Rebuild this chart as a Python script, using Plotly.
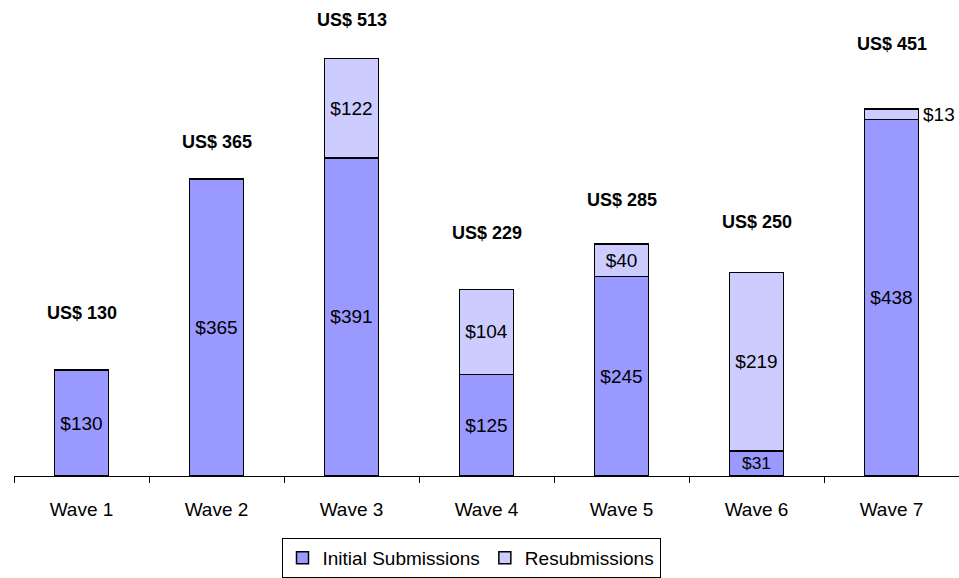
import plotly.graph_objects as go

waves = ["Wave 1", "Wave 2", "Wave 3", "Wave 4", "Wave 5", "Wave 6", "Wave 7"]
initial = [130, 365, 391, 125, 245, 31, 438]
resub = [None, None, 122, 104, 40, 219, 13]
totals = [130, 365, 513, 229, 285, 250, 451]
total_label_y = [200, 410, 560, 299, 339, 312, 531]

FONT = "Liberation Sans, Arial, sans-serif"
C_INIT = "#9999FF"
C_RES = "#CCCCFF"

init_text = [f"${v}" for v in initial]
res_text = [f"${v}" if (v is not None and v >= 20) else "" for v in resub]

fig = go.Figure()
fig.add_trace(go.Bar(
    x=waves, y=initial, name="Initial Submissions",
    marker=dict(color=C_INIT, line=dict(color="black", width=1.5)),
    text=init_text, textposition="inside", insidetextanchor="middle",
    textfont=dict(family=FONT, size=19, color="black"),
    width=0.4, hoverinfo="skip",
))
fig.add_trace(go.Bar(
    x=waves, y=resub, name="Resubmissions",
    marker=dict(color=C_RES, line=dict(color="black", width=1.5)),
    text=res_text, textposition="inside", insidetextanchor="middle",
    textfont=dict(family=FONT, size=19, color="black"),
    width=0.4, hoverinfo="skip",
))

for w, t, ly in zip(waves, totals, total_label_y):
    fig.add_annotation(x=w, y=ly, text=f"<b>US$ {t}</b>", showarrow=False,
                       font=dict(family=FONT, size=18, color="black"))

for w, i, r in zip(waves, initial, resub):
    if r is not None and r < 20:
        fig.add_annotation(x=w, y=i + r / 2, text=f"${r}", showarrow=False,
                           xanchor="left", xshift=29,
                           font=dict(family=FONT, size=19, color="black"))

fig.update_layout(
    barmode="stack",
    width=959, height=578,
    margin=dict(l=14, r=0, t=0, b=98),
    paper_bgcolor="white", plot_bgcolor="white",
    font=dict(family=FONT, size=19, color="black"),
    bargap=0.6,
    legend=dict(orientation="h", x=0.4836, xanchor="center", y=-0.131, yanchor="top",
                bordercolor="black", borderwidth=1, font=dict(family=FONT, size=19),
                itemwidth=30, traceorder="normal"),
    xaxis=dict(showline=True, linecolor="black", linewidth=1, ticks="outside",
               tickson="boundaries", ticklen=6, tickcolor="black", showgrid=False,
               ticklabelstandoff=16,
               tickfont=dict(family=FONT, size=19)),
    yaxis=dict(visible=False, range=[0, 584.9], showgrid=False),
)

fig.write_html("out.html")
